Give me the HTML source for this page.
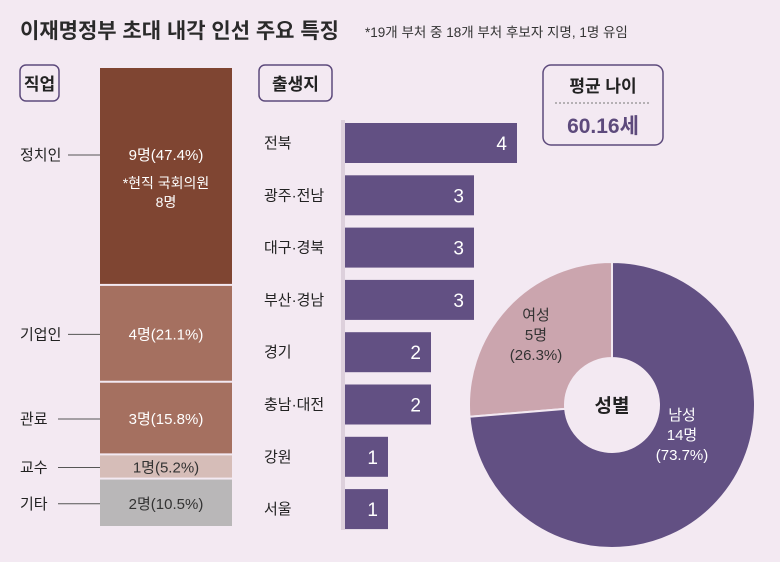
<!DOCTYPE html>
<html><head><meta charset="utf-8"><style>
body{margin:0;background:#f3e9f2;}
svg text{font-family:"Liberation Sans","Noto Sans CJK KR",sans-serif;}
</style></head><body>
<svg width="780" height="557" viewBox="0 0 780 557" id="c">
<rect width="780" height="557" fill="#f3e9f2"/>
<text x="20" y="38" font-size="21" font-weight="bold" fill="#2a2a2a">이재명정부 초대 내각 인선 주요 특징</text>
<text x="365" y="37" font-size="13.5" fill="#333">*19개 부처 중 18개 부처 후보자 지명, 1명 유임</text>
<rect x="20" y="65" width="39" height="36" rx="6" fill="#f3e9f2" stroke="#5d4a7c" stroke-width="1.5"/>
<text x="39.5" y="90" font-size="17" font-weight="bold" text-anchor="middle" fill="#222">직업</text>
<rect x="259" y="65" width="73" height="36" rx="6" fill="#f3e9f2" stroke="#5d4a7c" stroke-width="1.5"/>
<text x="295.5" y="90" font-size="17" font-weight="bold" text-anchor="middle" fill="#222">출생지</text>
<rect x="543" y="65" width="120" height="80" rx="8" fill="#f3e9f2" stroke="#5d4a7c" stroke-width="1.5"/>
<text x="603" y="92" font-size="17" font-weight="bold" text-anchor="middle" fill="#222">평균 나이</text>
<line x1="555" y1="103" x2="651" y2="103" stroke="#777" stroke-dasharray="2,2"/>
<text x="603" y="133" font-size="21" text-anchor="middle" fill="#5d4a7c" font-weight="bold">60.16세</text>
<line x1="343" y1="120" x2="343" y2="530" stroke="#ddd0dc" stroke-width="4"/>
<g id="job"></g><g id="bars"></g><g id="donut"></g>
</svg>
<script>
const jobCats=['정치인','기업인','관료','교수','기타'];
const jobCounts=[9,4,3,1,2];
const jobLabels=['9명(47.4%)','4명(21.1%)','3명(15.8%)','1명(5.2%)','2명(10.5%)'];
const regions=['전북','광주·전남','대구·경북','부산·경남','경기','충남·대전','강원','서울'];
const regionCounts=[4,3,3,3,2,2,1,1];
const genderCats=['여성','남성'];
const genderCounts=[5,14];
const genderLabels=['(26.3%)','(73.7%)'];
const NS='http://www.w3.org/2000/svg';
function mk(p,t,a,txt){const e=document.createElementNS(NS,t);for(const k in a)e.setAttribute(k,a[k]);if(txt!==undefined)e.textContent=txt;p.appendChild(e);return e;}
const jg=document.getElementById('job');
const jobColors=['#7f4532','#a57060','#a57060','#d6bdb8','#b9b7b8'];
const jobText=['#fff','#fff','#fff','#333','#333'];
const total=jobCounts.reduce((a,b)=>a+b,0);
const y0=68,H=460;const ys=v=>v/total*H;
let acc=0;
jobCounts.forEach((v,i)=>{
 const y=y0+ys(acc),h=ys(v);acc+=v;
 const r=mk(jg,'rect',{x:100,y:y,width:132,height:h-2,fill:jobColors[i]});
 
 
 const ly=y+h/2+(i===0?-22:0);
 const t=mk(jg,'text',{x:166,y:ly+5,'font-size':15,'text-anchor':'middle',fill:jobText[i]},jobLabels[i]);
 
 
 const l=mk(jg,'text',{x:20,y:ly+5,'font-size':15,fill:'#222'},jobCats[i]);
 
 
 const ln=mk(jg,'line',{x1:i===0||i===1?68:58,y1:ly,x2:100,y2:ly,stroke:'#555'});
 
 
});
const n1=mk(jg,'text',{x:166,y:188,'font-size':14,'text-anchor':'middle',fill:'#fff'},'*현직 국회의원');


const n2=mk(jg,'text',{x:166,y:207,'font-size':14,'text-anchor':'middle',fill:'#fff'},'8명');


const bg=document.getElementById('bars');
const xs=v=>v*43;
regions.forEach((r,i)=>{
 const cy=143+i*52.3;
 const b=mk(bg,'rect',{x:345,y:cy-20,width:xs(regionCounts[i]),height:40,fill:'#625083'});
 
 
 const v=mk(bg,'text',{x:345+xs(regionCounts[i])-10,y:cy+7,'font-size':19,'text-anchor':'end',fill:'#fff'},regionCounts[i]);
 
 
 const l=mk(bg,'text',{x:264,y:cy+5,'font-size':15,fill:'#222'},r);
 
 
});
const dg=document.getElementById('donut');
const cx=612,cy=405,R=143,ri=47;
const gt=genderCounts.reduce((a,b)=>a+b,0);
const cols=['#cba5ae','#625083'];
let a0=0;
function pt(a,r){return [cx+r*Math.sin(a),cy-r*Math.cos(a)];}
genderCounts.forEach((v,i)=>{
 const sweep=v/gt*2*Math.PI;
 const s=-a0,e=-(a0+sweep);
 const p1=pt(s,R),p2=pt(e,R),p3=pt(e,ri),p4=pt(s,ri);
 const lg=sweep>Math.PI?1:0;
 const d=`M${p1} A${R},${R} 0 ${lg} 0 ${p2} L${p3} A${ri},${ri} 0 ${lg} 1 ${p4}Z`;
 const p=mk(dg,'path',{d:d,fill:cols[i],stroke:'#f3e9f2','stroke-width':2});
 
 
 a0+=sweep;
});
const hole=mk(dg,'circle',{cx:cx,cy:cy,r:ri,fill:'#f3e9f2'});


const ct=mk(dg,'text',{x:cx,y:cy+7,'font-size':19,'font-weight':'bold','text-anchor':'middle',fill:'#222'},'성별');


const lp=[[536,320,'#333'],[682,420,'#fff']];
genderCats.forEach((g,i)=>{
 [g,genderCounts[i]+'명',genderLabels[i]].forEach((s,k)=>{
  const t=mk(dg,'text',{x:lp[i][0],y:lp[i][1]+k*20,'font-size':15,'text-anchor':'middle',fill:lp[i][2]},s);
  
  
 });
});
</script>
</body></html>
